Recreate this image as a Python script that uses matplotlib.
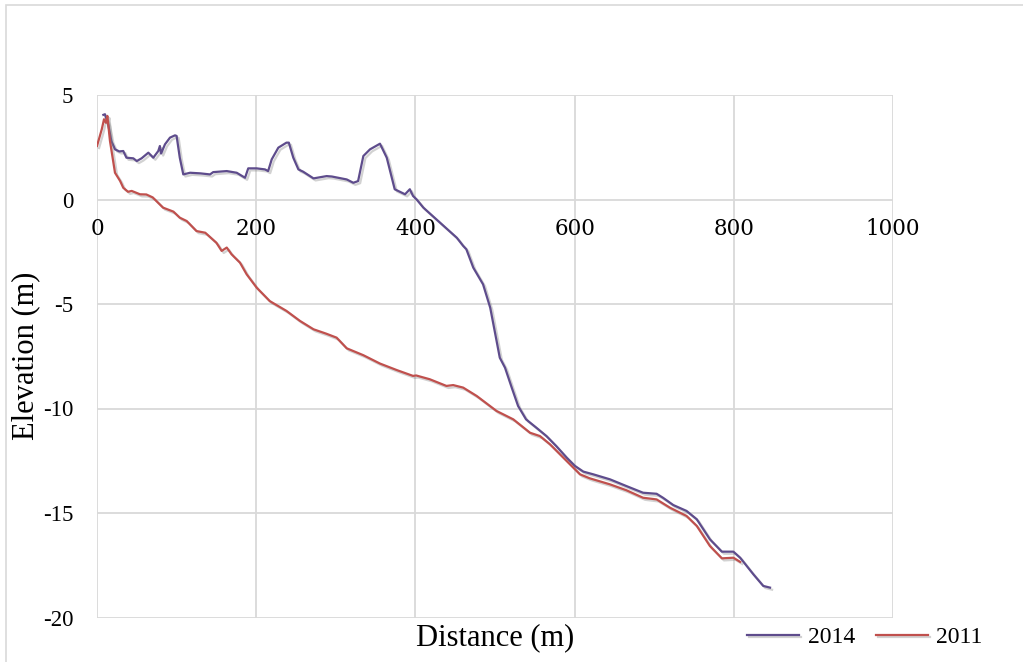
import matplotlib
matplotlib.use("Agg")
import matplotlib.pyplot as plt
import matplotlib.patheffects as pe
from matplotlib.patches import Rectangle

# ---- data ----
dist_2014 = [8, 10, 14, 18, 22.6, 28, 33, 37, 45.6, 50, 56, 64.5, 70.7, 77, 79, 80.5,
             85.4, 91.7, 98, 100, 104, 108.4, 117, 130, 142, 146, 163, 175.5, 186, 190,
             200.6, 211, 215, 219.5, 227.8, 238, 241, 246.6, 253, 259, 272, 288.5, 295,
             313.7, 322, 328, 334.6, 343, 355.5, 364, 374, 387, 393, 397, 401.6, 410,
             431, 452, 460, 464, 472.7, 485, 494, 502, 506, 512.6, 521, 529, 539, 552,
             564.7, 577, 590, 600.5, 611, 623.5, 644.5, 665, 686, 703, 711, 724, 740.6,
             753.5, 770, 785, 799.5, 808, 824.5, 837, 845.5]
elev_2014 = [4.05, 4.08, 3.6, 2.8, 2.4, 2.3, 2.32, 2.0, 1.97, 1.84, 1.97, 2.24, 2.0, 2.32,
             2.56, 2.2, 2.64, 2.96, 3.07, 3.04, 2.0, 1.2, 1.28, 1.25, 1.2, 1.31, 1.36, 1.28,
             1.04, 1.49, 1.49, 1.44, 1.36, 1.92, 2.48, 2.72, 2.72, 2.0, 1.44, 1.33, 1.01,
             1.12, 1.1, 0.96, 0.8, 0.88, 2.08, 2.4, 2.67, 2.0, 0.49, 0.25, 0.49, 0.17, 0.0,
             -0.39, -1.11, -1.83, -2.22, -2.38, -3.26, -4.06, -5.18, -6.77, -7.57, -8.05,
             -9.0, -9.88, -10.52, -10.92, -11.32, -11.8, -12.35, -12.75, -13.02, -13.15,
             -13.39, -13.71, -14.03, -14.08, -14.27, -14.62, -14.9, -15.3, -16.26, -16.85,
             -16.85, -17.14, -17.93, -18.49, -18.57]

dist_2011 = [0, 6, 8.8, 11.3, 13, 16.3, 22.6, 29, 33, 39, 43.6, 54, 62, 70, 83, 96, 104,
             112.7, 125, 136, 150, 156.6, 163, 169, 179.6, 188, 200.6, 217, 238, 255, 272,
             288, 301, 313.7, 334.6, 355.5, 376.5, 397, 401, 418, 439, 447.5, 460, 477,
             502, 523, 544, 556.5, 569, 585.8, 598.4, 606.8, 619, 644.5, 665, 686, 703,
             720, 740.6, 753.5, 770, 785, 799.5, 808]
elev_2011 = [2.56, 3.36, 3.84, 3.67, 4.0, 2.8, 1.28, 0.89, 0.56, 0.37, 0.41, 0.25, 0.24,
             0.1, -0.39, -0.58, -0.87, -1.03, -1.51, -1.59, -2.07, -2.46, -2.3, -2.62,
             -3.02, -3.58, -4.22, -4.86, -5.33, -5.81, -6.21, -6.42, -6.61, -7.12, -7.45,
             -7.85, -8.16, -8.44, -8.42, -8.6, -8.92, -8.88, -9.0, -9.4, -10.12, -10.52,
             -11.16, -11.32, -11.71, -12.35, -12.83, -13.15, -13.34, -13.63, -13.91,
             -14.27, -14.35, -14.75, -15.14, -15.62, -16.58, -17.17, -17.14, -17.34]

x_ticks = [0, 200, 400, 600, 800, 1000]
y_ticks = [5, 0, -5, -10, -15, -20]
series_labels = ["2014", "2011"]

# ---- figure ----
fig = plt.figure(figsize=(10.23, 6.62), dpi=100)
ax = fig.add_axes([97/1023, 1 - 617.5/662, (893-97)/1023, (617.5-95)/662])

# outer frame of the chart area
fig.patches.append(Rectangle((6/1023, -0.01), 1.02, 1 - 5/662 + 0.01,
                             transform=fig.transFigure, fill=False,
                             edgecolor="#D9D9D9", linewidth=1.2, zorder=0))

grid_c = "#D9D9D9"
ax.set_xlim(0, 1000)
ax.set_ylim(-20, 5)
ax.set_xticks(x_ticks)
ax.set_yticks(y_ticks)
ax.grid(True, color=grid_c, linewidth=1.3)
ax.set_axisbelow(True)
for s in ax.spines.values():
    s.set_visible(False)

shadow = [pe.SimpleLineShadow(offset=(1.5, -1.5), shadow_color="gray", alpha=0.35),
          pe.Normal()]
c14 = "#5E4C8C"
c11 = "#C0504D"
ax.plot(dist_2014, elev_2014, color=c14, linewidth=1.6, label=series_labels[0],
        path_effects=shadow, solid_joinstyle="round")
ax.plot(dist_2011, elev_2011, color=c11, linewidth=1.6, label=series_labels[1],
        path_effects=shadow, solid_joinstyle="round")

# y tick labels
ax.set_yticklabels([str(v) for v in y_ticks], family="Liberation Serif", fontsize=16.5)
ax.tick_params(axis="y", length=0, pad=17)

# x tick labels positioned just under the y = 0 line
ax.tick_params(axis="x", length=0, labelbottom=False)
for v in x_ticks:
    ax.text(v, -0.9, str(v), ha="center", va="top", fontsize=15.5,
            family="DejaVu Serif", color="black", transform=ax.transData)

ax.set_xlabel("Distance (m)", fontsize=22, family="Liberation Serif", labelpad=4)
ax.set_ylabel("Elevation (m)", fontsize=22, family="Liberation Serif", labelpad=2)

leg = fig.legend(loc="center", bbox_to_anchor=(865/1023, 1 - 637/662), ncol=2,
                 frameon=False, prop={"family": "Liberation Serif", "size": 17},
                 handlelength=2.2, columnspacing=0.9, handletextpad=0.35)

fig.savefig("out.png", dpi=100)
